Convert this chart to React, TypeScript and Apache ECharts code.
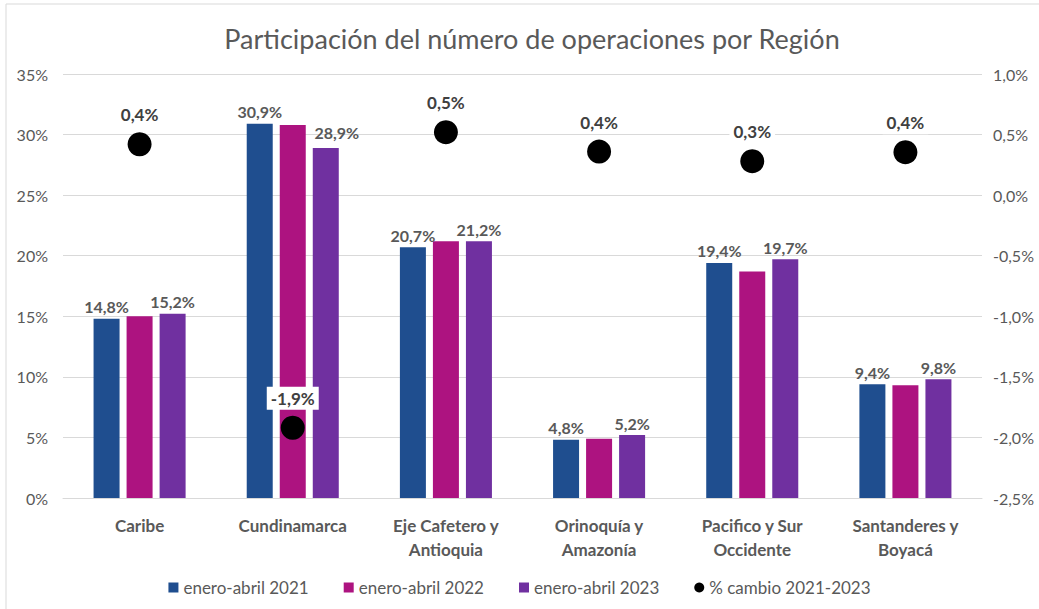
import React, { useEffect, useRef } from "react";
import * as echarts from "echarts";

const categories = [
  "Caribe",
  "Cundinamarca",
  "Eje Cafetero y\nAntioquia",
  "Orinoquía y\nAmazonía",
  "Pacifico y Sur\nOccidente",
  "Santanderes y\nBoyacá",
];
const serie2021 = [14.8, 30.9, 20.7, 4.8, 19.4, 9.4];
const serie2022 = [15.0, 30.8, 21.2, 4.9, 18.7, 9.3];
const serie2023 = [15.2, 28.9, 21.2, 5.2, 19.7, 9.8];
const cambio = [0.42, -1.92, 0.52, 0.36, 0.28, 0.355];
const leftTicks = { min: 0, max: 35, interval: 5 };
const rightTicks = { min: -2.5, max: 1.0, interval: 0.5 };

const FONT = "Lato, 'Open Sans', sans-serif";
const GRAY = "#595959";

const fmtPct1 = (v: number) => (Math.round(v * 10) / 10).toFixed(1).replace(".", ",") + "%";

export default function App() {
  const ref = useRef<HTMLDivElement>(null);
  useEffect(() => {
    document.body.style.margin = "0";
    const chart = echarts.init(ref.current!, null, { renderer: "svg" });
    const barLabel = {
      show: true,
      position: "top",
      distance: 4,
      fontFamily: FONT,
      fontWeight: "bold",
      fontSize: 16,
      color: GRAY,
      formatter: (p: any) => fmtPct1(p.value),
    };
    const option: any = {
      animation: false,
      backgroundColor: "#fff",
      textStyle: { fontFamily: FONT },
      title: {
        text: "Participación del número de operaciones por Región",
        left: 527,
        top: 20,
        textAlign: "center",
        textStyle: { fontFamily: FONT, fontSize: 27, fontWeight: "normal", color: GRAY },
      },
      graphic: [
        { type: "line", shape: { x1: 6, y1: 4, x2: 1039, y2: 4 }, style: { stroke: "#d9d9d9", lineWidth: 1 } },
        { type: "line", shape: { x1: 6, y1: 4, x2: 6, y2: 609 }, style: { stroke: "#d9d9d9", lineWidth: 1 } },
      ],
      grid: { left: 63, right: 57, top: 74, bottom: 111, containLabel: false },
      legend: {
        left: "center",
        top: 574,
        itemWidth: 10,
        itemHeight: 10,
        itemGap: 35,
        textStyle: { fontFamily: FONT, fontSize: 17, color: GRAY },
        data: [
          { name: "enero-abril 2021", icon: "rect" },
          { name: "enero-abril 2022", icon: "rect" },
          { name: "enero-abril 2023", icon: "rect" },
          { name: "% cambio 2021-2023", icon: "circle" },
        ],
      },
      xAxis: {
        type: "category",
        data: categories,
        axisLine: { lineStyle: { color: "#d9d9d9" } },
        axisTick: { show: false },
        axisLabel: {
          fontFamily: FONT,
          fontWeight: "bold",
          fontSize: 17,
          color: GRAY,
          margin: 15,
          lineHeight: 24,
          interval: 0,
        },
      },
      yAxis: [
        {
          type: "value",
          ...leftTicks,
          axisLine: { show: false },
          axisTick: { show: false },
          splitLine: { lineStyle: { color: "#d9d9d9" } },
          axisLabel: {
            fontFamily: FONT,
            fontSize: 16,
            color: GRAY,
            margin: 15,
            formatter: (v: number) => `${v}%`,
          },
        },
        {
          type: "value",
          ...rightTicks,
          axisLine: { show: false },
          axisTick: { show: false },
          splitLine: { show: false },
          axisLabel: {
            fontFamily: FONT,
            fontSize: 16,
            color: GRAY,
            margin: 11,
            formatter: (v: number) => v.toFixed(1).replace(".", ",") + "%",
          },
        },
      ],
      series: [
        {
          name: "enero-abril 2021",
          type: "bar",
          data: serie2021,
          barWidth: 26,
          barGap: "27%",
          itemStyle: { color: "#1F4E8F" },
          label: barLabel,
        },
        {
          name: "enero-abril 2022",
          type: "bar",
          data: serie2022,
          barWidth: 26,
          barGap: "27%",
          itemStyle: { color: "#AD1380" },
        },
        {
          name: "enero-abril 2023",
          type: "bar",
          data: serie2023.map((v, i) =>
            i === 1 ? { value: v, label: { offset: [11, -3] } } : v
          ),
          barWidth: 26,
          barGap: "27%",
          itemStyle: { color: "#7030A0" },
          label: barLabel,
        },
        {
          name: "% cambio 2021-2023",
          type: "scatter",
          yAxisIndex: 1,
          data: cambio,
          symbol: "circle",
          symbolSize: 24,
          itemStyle: { color: "#000", opacity: 1 },
          label: {
            show: true,
            position: "top",
            distance: 6,
            fontFamily: FONT,
            fontWeight: "bold",
            fontSize: 17,
            color: "#404040",
            backgroundColor: "#fff",
            padding: [3, 4],
            formatter: (p: any) => fmtPct1(p.value),
          },
          z: 5,
        },
      ],
    };
    chart.setOption(option);
    return () => chart.dispose();
  }, []);
  return <div ref={ref} style={{ width: 1039, height: 609 }} />;
}
